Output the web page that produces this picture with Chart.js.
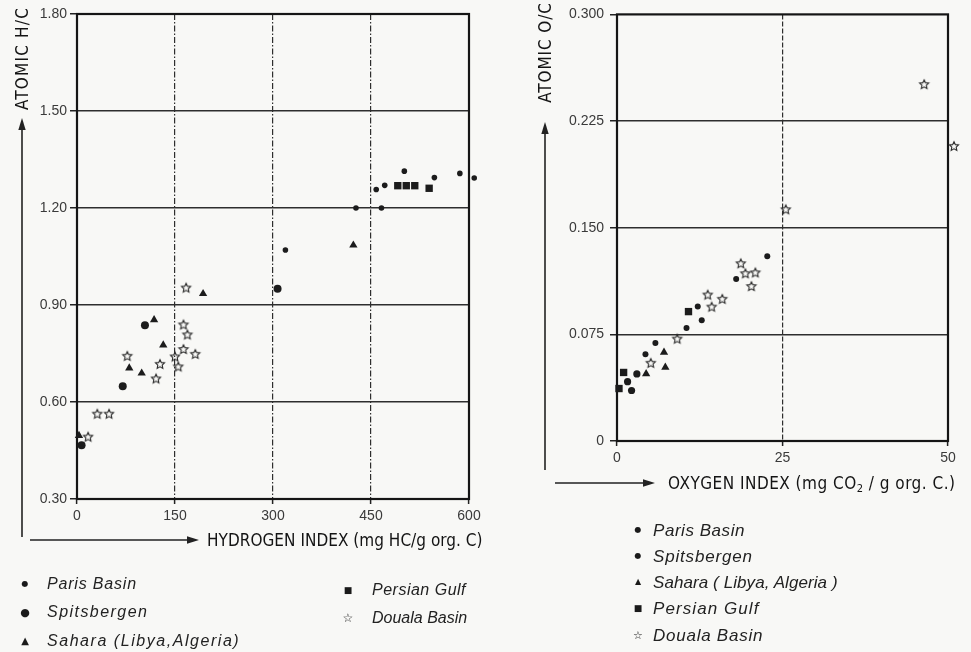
<!DOCTYPE html>
<html><head><meta charset="utf-8">
<script src="https://cdn.jsdelivr.net/npm/chart.js@4.4.1/dist/chart.umd.min.js"></script>
<style>
html,body{margin:0;padding:0;background:#f8f8f6;}
#wrap{position:relative;width:971px;height:652px;overflow:hidden;background:#f8f8f6;}
canvas{position:absolute;top:0;}
#cL{left:0;}
#cR{left:530px;}
svg{position:absolute;left:0;top:0;}
.t{position:absolute;white-space:nowrap;line-height:1;}
.title{font-family:'DejaVu Sans Condensed','DejaVu Sans',sans-serif;font-size:17px;color:#141414;}
.title sub{font-size:11px;vertical-align:-3px;line-height:0;}
.leg{font-family:'Liberation Sans',Arial,sans-serif;font-style:italic;font-size:16px;color:#222;}
.mk{position:absolute;font-family:'DejaVu Sans',sans-serif;line-height:1;color:#1a1a1a;transform:translate(-50%,-50%);}
</style></head>
<body><div id="wrap">
<canvas id="cL" width="530" height="560"></canvas>
<canvas id="cR" width="441" height="500"></canvas>
<svg width="971" height="652">
  <g stroke="#222" stroke-width="1.6" fill="none">
    <line x1="22" y1="537" x2="22" y2="128"/>
    <line x1="30" y1="540" x2="190" y2="540"/>
    <line x1="545" y1="470" x2="545" y2="132"/>
    <line x1="555" y1="483" x2="646" y2="483"/>
  </g>
  <g fill="#222">
    <polygon points="22,118 18.3,130 25.7,130"/>
    <polygon points="199,540 187,536.3 187,543.7"/>
    <polygon points="545,122 541.3,134 548.7,134"/>
    <polygon points="655,483 643,479.3 643,486.7"/>
  </g>
</svg>
<div id="texts"></div>
</div>
<script>
// ---------------- DATA ----------------
// Left chart: Hydrogen index vs atomic H/C
const hiParis   = [319, 427, 458, 471, 466, 501, 547, 586, 608];
const hcParis   = [1.07, 1.20, 1.257, 1.27, 1.20, 1.314, 1.294, 1.307, 1.293];
const hiSpits   = [7, 70, 104, 307];
const hcSpits   = [0.466, 0.649, 0.837, 0.95];
const hiSahara  = [3, 80, 99, 118, 132, 193, 423];
const hcSahara  = [0.496, 0.705, 0.689, 0.854, 0.776, 0.935, 1.085];
const hiGulf    = [491, 504, 517, 539];
const hcGulf    = [1.269, 1.269, 1.269, 1.261];
const hiDouala  = [167, 163, 169, 163, 181, 150, 155, 127, 121, 77, 31, 49, 17];
const hcDouala  = [0.954, 0.840, 0.809, 0.764, 0.749, 0.741, 0.710, 0.718, 0.673, 0.743, 0.564, 0.564, 0.493];

// Right chart: Oxygen index vs atomic O/C
const oiParis   = [22.7, 18.0, 12.2, 12.8, 10.5, 5.8, 4.3];
const ocParis   = [0.130, 0.114, 0.0945, 0.085, 0.0795, 0.069, 0.061];
const oiSpits   = [3.0, 1.6, 2.2];
const ocSpits   = [0.0472, 0.0417, 0.0355];
const oiSahara  = [7.1, 7.3, 4.4];
const ocSahara  = [0.0623, 0.0518, 0.0472];
const oiGulf    = [10.8, 1.0, 0.3];
const ocGulf    = [0.091, 0.0482, 0.0369];
const oiDouala  = [18.7, 19.4, 20.9, 20.3, 13.7, 15.9, 14.3, 9.1, 5.1, 25.5, 46.4, 50.9];
const ocDouala  = [0.125, 0.118, 0.1186, 0.109, 0.103, 0.100, 0.0945, 0.072, 0.055, 0.163, 0.251, 0.2075];

// Ticks
const hiTicks      = [0, 150, 300, 450, 600];
const hiTickLabels = ['0', '150', '300', '450', '600'];
const hcTicks      = [0.30, 0.60, 0.90, 1.20, 1.50, 1.80];
const hcTickLabels = ['0.30', '0.60', '0.90', '1.20', '1.50', '1.80'];
const oiTicks      = [0, 25, 50];
const oiTickLabels = ['0', '25', '50'];
const ocTicks      = [0, 0.075, 0.150, 0.225, 0.300];
const ocTickLabels = ['0', '0.075', '0.150', '0.225', '0.300'];

// Series names
const seriesNames = ['Paris Basin', 'Spitsbergen', 'Sahara (Libya,Algeria)', 'Persian Gulf', 'Douala Basin'];

// ---------------- HELPERS ----------------
const INK = '#1c1c1c';
function pts(xs, ys){ return xs.map((x,i)=>({x:x, y:ys[i]})); }
function starImg(r, lw){
  const s = Math.ceil(2*r + lw*2 + 2);
  const c = document.createElement('canvas'); c.width = s; c.height = s;
  const g = c.getContext('2d'); g.translate(s/2, s/2 + 0.5);
  g.beginPath();
  for (let i=0;i<10;i++){
    const rr = (i%2) ? r*0.48 : r;
    const a = -Math.PI/2 + i*Math.PI/5;
    g.lineTo(rr*Math.cos(a), rr*Math.sin(a));
  }
  g.closePath(); g.lineWidth = lw; g.strokeStyle = '#2a2a2a'; g.stroke();
  return c;
}
const STAR = starImg(4.8, 1.1);

function ds(label, data, style, r){
  return {label, data, pointStyle: style, pointRadius: r, pointHoverRadius: r,
    backgroundColor: INK, borderColor: INK, borderWidth: 0, clip: false, showLine: false};
}

// Frame around the plot; also lets points that sit just outside the frame be drawn.
const framePlugin = {
  id: 'frame',
  beforeDatasetsDraw(chart){
    const a = chart.chartArea, c = chart.ctx;
    c.save(); c.strokeStyle = '#151515'; c.lineWidth = 2.2;
    c.strokeRect(a.left, a.top, a.right - a.left, a.bottom - a.top);
    c.restore();
    chart.$savedArea = a;
    chart.chartArea = {left: a.left - 30, top: a.top - 30, right: a.right + 30, bottom: a.bottom + 30,
                       width: a.width + 60, height: a.height + 60};
  },
  afterDatasetsDraw(chart){
    if (chart.$savedArea) { chart.chartArea = chart.$savedArea; chart.$savedArea = null; }
  }
};

function makeOpts(cfg){
  const gridColor = (n) => (ctx) => (ctx.index === 0 || ctx.index === n-1) ? 'rgba(0,0,0,0)' : '#2e2e2e';
  return {
    responsive: false, animation: false, events: [],
    layout: {padding: cfg.pad},
    plugins: {legend: {display: false}, tooltip: {enabled: false}},
    scales: {
      x: {
        type: 'linear', min: cfg.xTicks[0], max: cfg.xTicks[cfg.xTicks.length-1],
        afterBuildTicks: s => { s.ticks = cfg.xTicks.map(v => ({value: v})); },
        afterFit: s => { s.height = 25; },
        ticks: {callback: (v, i) => cfg.xLabels[i], color: '#3a3a3a', padding: cfg.xPad,
                font: {family: "'Liberation Sans', Arial, sans-serif", size: 14}, maxRotation: 0, autoSkip: false},
        grid: {color: gridColor(cfg.xTicks.length), lineWidth: 1.2, drawTicks: true, tickLength: 5,
               tickColor: '#222', tickWidth: 1.5},
        border: {display: false, dash: cfg.xDash}
      },
      y: {
        type: 'linear', min: cfg.yTicks[0], max: cfg.yTicks[cfg.yTicks.length-1],
        afterBuildTicks: s => { s.ticks = cfg.yTicks.map(v => ({value: v})); },
        afterFit: s => { s.width = cfg.yW; },
        ticks: {callback: (v, i) => cfg.yLabels[i], color: '#3a3a3a', padding: cfg.yPad,
                font: {family: "'Liberation Sans', Arial, sans-serif", size: 14}, autoSkip: false},
        grid: {color: gridColor(cfg.yTicks.length), lineWidth: 1.5, drawTicks: true, tickLength: 7,
               tickColor: '#222', tickWidth: 1.5},
        border: {display: false}
      }
    }
  };
}

// ---------------- LEFT CHART ----------------
new Chart(document.getElementById('cL'), {
  type: 'scatter',
  data: {datasets: [
    ds(seriesNames[0], pts(hiParis, hcParis), 'circle', 2.8),
    ds(seriesNames[1], pts(hiSpits, hcSpits), 'circle', 4),
    ds(seriesNames[2], pts(hiSahara, hcSahara), 'triangle', 4.8),
    ds(seriesNames[3], pts(hiGulf, hcGulf), 'rect', 5.2),
    ds(seriesNames[4], pts(hiDouala, hcDouala), STAR, 5)
  ]},
  options: makeOpts({pad: {left: 0, top: 14, right: 61, bottom: 36},
    xTicks: hiTicks, xLabels: hiTickLabels, yTicks: hcTicks, yLabels: hcTickLabels,
    yW: 77, xPad: 4, yPad: 3, xDash: [6, 2, 1.5, 2]}),
  plugins: [framePlugin]
});

// ---------------- RIGHT CHART ----------------
new Chart(document.getElementById('cR'), {
  type: 'scatter',
  data: {datasets: [
    ds(seriesNames[0], pts(oiParis, ocParis), 'circle', 3),
    ds(seriesNames[1], pts(oiSpits, ocSpits), 'circle', 3.6),
    ds(seriesNames[2], pts(oiSahara, ocSahara), 'triangle', 4.8),
    ds(seriesNames[3], pts(oiGulf, ocGulf), 'rect', 5.2),
    ds(seriesNames[4], pts(oiDouala, ocDouala), STAR, 5)
  ]},
  options: makeOpts({pad: {left: 0, top: 8, right: 23, bottom: 34},
    xTicks: oiTicks, xLabels: oiTickLabels, yTicks: ocTicks, yLabels: ocTickLabels,
    yW: 87, xPad: 4, yPad: 6, xDash: [5, 2]}),
  plugins: [framePlugin]
});

// ---------------- TEXTS ----------------
const host = document.getElementById('texts');
function fitText(el, target){
  el.style.letterSpacing = '0px';
  const w = el.offsetWidth;
  const n = el.textContent.length;
  el.style.letterSpacing = ((target - w) / n) + 'px';
}
function hText(html, cls, x1, x2, cy, fs){
  const el = document.createElement('div');
  el.className = 't ' + cls; el.innerHTML = html;
  if (fs) el.style.fontSize = fs + 'px';
  host.appendChild(el);
  fitText(el, x2 - x1);
  el.style.left = x1 + 'px';
  el.style.top = (cy - el.offsetHeight/2) + 'px';
  return el;
}
function vText(html, cls, cx, y1, y2){
  const el = document.createElement('div');
  el.className = 't ' + cls; el.innerHTML = html;
  host.appendChild(el);
  fitText(el, y2 - y1);
  const w = el.offsetWidth, h = el.offsetHeight;
  el.style.left = (cx - w/2) + 'px';
  el.style.top = ((y1 + y2)/2 - h/2) + 'px';
  el.style.transform = 'rotate(-90deg)';
  return el;
}
function marker(ch, x, y, fs){
  const el = document.createElement('div');
  el.className = 'mk'; el.textContent = ch;
  el.style.left = x + 'px'; el.style.top = y + 'px'; el.style.fontSize = fs + 'px';
  host.appendChild(el);
}

vText('ATOMIC H/C', 'title', 22, 7, 110);
hText('HYDROGEN INDEX (mg HC/g org. C)', 'title', 207, 483, 540);
vText('ATOMIC O/C', 'title', 545, 2, 103);
hText('OXYGEN INDEX (mg CO<sub>2</sub> / g org. C.)', 'title', 668, 955, 483);

// left legend
const legL = [
  [seriesNames[0], '●', 8, 25, 47, 584, 90],
  [seriesNames[1], '●', 11, 25, 47, 612, 101],
  ['Sahara (Libya,Algeria)', '▲', 10, 25, 47, 641, 193],
  [seriesNames[3], '■', 9, 348, 372, 590, 94],
  [seriesNames[4], '☆', 12, 348, 372, 618, 95]
];
legL.forEach(r => { marker(r[1], r[3], r[5], r[2]); hText(r[0], 'leg', r[4], r[4] + r[6], r[5]); });

// right legend
const legR = [
  [seriesNames[0], '●', 8, 638, 653, 530, 92],
  [seriesNames[1], '●', 8, 638, 653, 556, 100],
  ['Sahara ( Libya, Algeria )', '▲', 8, 638, 653, 582, 185],
  [seriesNames[3], '■', 9, 638, 653, 608, 107],
  [seriesNames[4], '☆', 11, 638, 653, 635, 110]
];
legR.forEach(r => { marker(r[1], r[3], r[5], r[2]); hText(r[0], 'leg', r[4], r[4] + r[6], r[5], 17); });
</script>
</body></html>
